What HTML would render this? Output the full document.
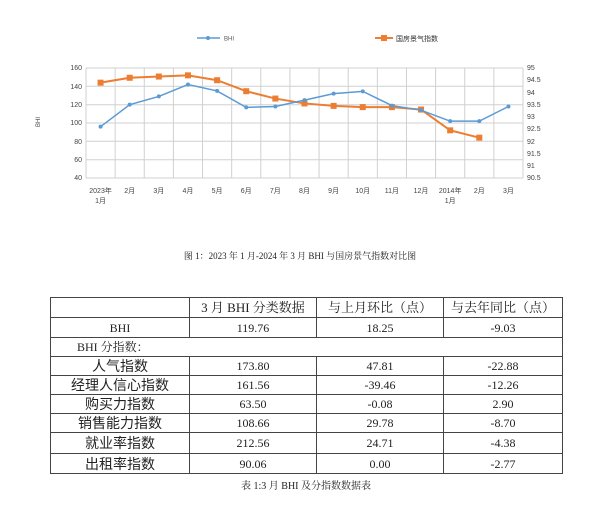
<!DOCTYPE html><html><head><meta charset="utf-8"><style>
body{margin:0;background:#fff;width:600px;height:509px;overflow:hidden;font-family:"Liberation Serif","Noto Serif CJK SC",serif}
svg{position:absolute;left:0;top:0}
td{border:1px solid #444;text-align:center;padding:0;line-height:16px;overflow:hidden;white-space:nowrap}
td.c{font-size:14px;font-family:"Liberation Sans","Noto Sans CJK SC",sans-serif}
</style></head><body>
<svg width="600" height="509" font-family="Liberation Sans, Noto Sans CJK SC, sans-serif">
<g stroke="#d0d0d0" stroke-width="1">
<line x1="86" y1="68" x2="523" y2="68"/><line x1="86" y1="86.3" x2="523" y2="86.3"/><line x1="86" y1="104.7" x2="523" y2="104.7"/><line x1="86" y1="123" x2="523" y2="123"/><line x1="86" y1="141.3" x2="523" y2="141.3"/><line x1="86" y1="159.7" x2="523" y2="159.7"/><line x1="86" y1="178" x2="523" y2="178"/>
<g id="v"></g>
</g>
<g font-size="7" fill="#444" text-anchor="end">
<text x="82" y="70">160</text><text x="82" y="89">140</text><text x="82" y="107">120</text><text x="82" y="125">100</text><text x="82" y="144">80</text><text x="82" y="162">60</text><text x="82" y="180">40</text>
</g>
<g font-size="7" fill="#444">
<text x="527" y="70">95</text><text x="527" y="82">94.5</text><text x="527" y="95">94</text><text x="527" y="107">93.5</text><text x="527" y="119">93</text><text x="527" y="131">92.5</text><text x="527" y="144">92</text><text x="527" y="156">91.5</text><text x="527" y="168">91</text><text x="527" y="180">90.5</text>
</g>
<text x="40" y="122" font-size="6" fill="#444" transform="rotate(-90 40 122)" text-anchor="middle">BHI</text>
<line x1="197" y1="38" x2="220" y2="38" stroke="#5b9bd5" stroke-width="1.5"/><circle cx="208" cy="38" r="2" fill="#5b9bd5"/>
<text x="224" y="40.5" font-size="6" fill="#555">BHI</text>
<line x1="375" y1="38" x2="393" y2="38" stroke="#ed7d31" stroke-width="2"/><rect x="381" y="35" width="6" height="6" fill="#ed7d31"/>
<text x="396" y="41" font-size="7" fill="#333">国房景气指数</text>
<text x="300" y="259" font-size="9" fill="#222" text-anchor="middle" font-family="Liberation Serif, Noto Serif CJK SC, serif">图 1：2023 年 1 月-2024 年 3 月 BHI 与国房景气指数对比图</text>
</svg>
<script>
var ns="http://www.w3.org/2000/svg",s=document.querySelector('svg');
function el(t,a,p){var e=document.createElementNS(ns,t);for(var k in a)e.setAttribute(k,a[k]);(p||s).appendChild(e);return e}
var w=437/15,v=document.getElementById('v');
for(var i=0;i<=15;i++)el('line',{x1:86+w*i,y1:68,x2:86+w*i,y2:178},v);
var b=[96,120,129,142,135,117,118,125,132,134.5,119,114,102,102,118];
var h=[94.4,94.6,94.65,94.7,94.5,94.05,93.75,93.55,93.45,93.4,93.4,93.3,92.45,92.15];
var X=i=>86+w*(i+.5);
var pb=b.map((y,i)=>X(i)+','+(68+(160-y)*110/120)).join(' ');
var ph=h.map((y,i)=>X(i)+','+(68+(95-y)*110/4.5)).join(' ');
el('polyline',{points:ph,fill:'none',stroke:'#ed7d31','stroke-width':2});
h.forEach((y,i)=>el('rect',{x:X(i)-3,y:68+(95-y)*110/4.5-3,width:6,height:6,fill:'#ed7d31'}));
el('polyline',{points:pb,fill:'none',stroke:'#5b9bd5','stroke-width':1.5});
b.forEach((y,i)=>el('circle',{cx:X(i),cy:68+(160-y)*110/120,r:2,fill:'#5b9bd5'}));
var L=['2023年','2月','3月','4月','5月','6月','7月','8月','9月','10月','11月','12月','2014年','2月','3月'];
L.forEach((t,i)=>{var e=el('text',{x:X(i),y:193,'font-size':7,fill:'#444','text-anchor':'middle'});e.textContent=t;});
[0,12].forEach(a=>{var e=el('text',{x:X(a),y:203,'font-size':7,fill:'#444','text-anchor':'middle'});e.textContent='1月';});
</script>
<div style="position:absolute;left:50px;top:297px">
<table style="border-collapse:collapse;width:512px;font-size:12px;color:#222;table-layout:fixed">
<colgroup><col style="width:139px"><col style="width:127px"><col style="width:127px"><col style="width:119px"></colgroup>
<tr><td style="height:19px"></td><td style="font-size:13px">3 月 BHI 分类数据</td><td style="font-size:13px">与上月环比（点）</td><td style="font-size:13px">与去年同比（点）</td></tr>
<tr><td style="height:19px">BHI</td><td>119.76</td><td>18.25</td><td>-9.03</td></tr>
<tr><td colspan="4" style="height:18px;text-align:left;padding-left:26px">BHI 分指数：</td></tr>
<tr><td class="c" style="height:18px">人气指数</td><td>173.80</td><td>47.81</td><td>-22.88</td></tr>
<tr><td class="c" style="height:18px">经理人信心指数</td><td>161.56</td><td>-39.46</td><td>-12.26</td></tr>
<tr><td class="c" style="height:18px">购买力指数</td><td>63.50</td><td>-0.08</td><td>2.90</td></tr>
<tr><td class="c" style="height:18px">销售能力指数</td><td>108.66</td><td>29.78</td><td>-8.70</td></tr>
<tr><td class="c" style="height:20px">就业率指数</td><td>212.56</td><td>24.71</td><td>-4.38</td></tr>
<tr><td class="c" style="height:19px">出租率指数</td><td>90.06</td><td>0.00</td><td>-2.77</td></tr>
</table>
<div style="width:512px;text-align:center;font-size:10px;margin-top:3px;color:#222">表 1:3 月 BHI 及分指数数据表</div>
</div>
</body></html>
